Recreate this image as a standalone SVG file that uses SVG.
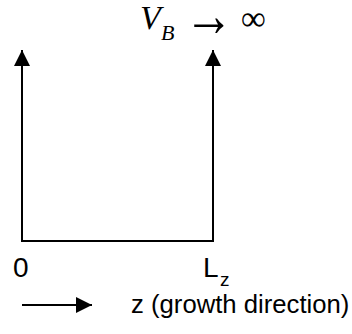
<svg xmlns="http://www.w3.org/2000/svg" width="352" height="334" viewBox="0 0 352 334">
<style>
.ln{stroke:#000;stroke-width:2;fill:none}
.sans{font-family:"Liberation Sans",Arial,sans-serif;fill:#000}
.serif{font-family:"Liberation Serif","Times New Roman",serif;fill:#000}
</style>
<defs>
<marker id="ah" viewBox="0 0 16 16" refX="16" refY="8" markerWidth="16" markerHeight="16" markerUnits="userSpaceOnUse" orient="auto">
<path d="M0,0 L16,8 L0,16 Z" fill="#000"/>
</marker>
</defs>
<g id="connectors">
<path class="ln" d="M22,241 L22,50" marker-end="url(#ah)"/>
<path class="ln" d="M213,241 L213,50" marker-end="url(#ah)"/>
<path class="ln" d="M21,241 L214,241"/>
<path class="ln" d="M22,305 L92,305" marker-end="url(#ah)"/>
</g>
<g id="title">
<text x="140" y="29" class="serif" font-style="italic" font-size="34">V</text>
<text x="161" y="40" class="serif" font-style="italic" font-size="22">B</text>
<text transform="translate(184,36) scale(1.45,1.8)" class="serif" font-size="34">→</text>
<text x="241" y="30" class="serif" font-size="35">∞</text>
</g>
<g id="label-0"><text x="13" y="277" class="sans" font-size="28">0</text></g>
<g id="label-Lz"><text x="203" y="277" class="sans" font-size="28">L</text><text x="220" y="286" class="sans" font-size="19">z</text></g>
<g id="label-z"><text x="131" y="313" class="sans" font-size="25.7">z (growth direction)</text></g>
</svg>
